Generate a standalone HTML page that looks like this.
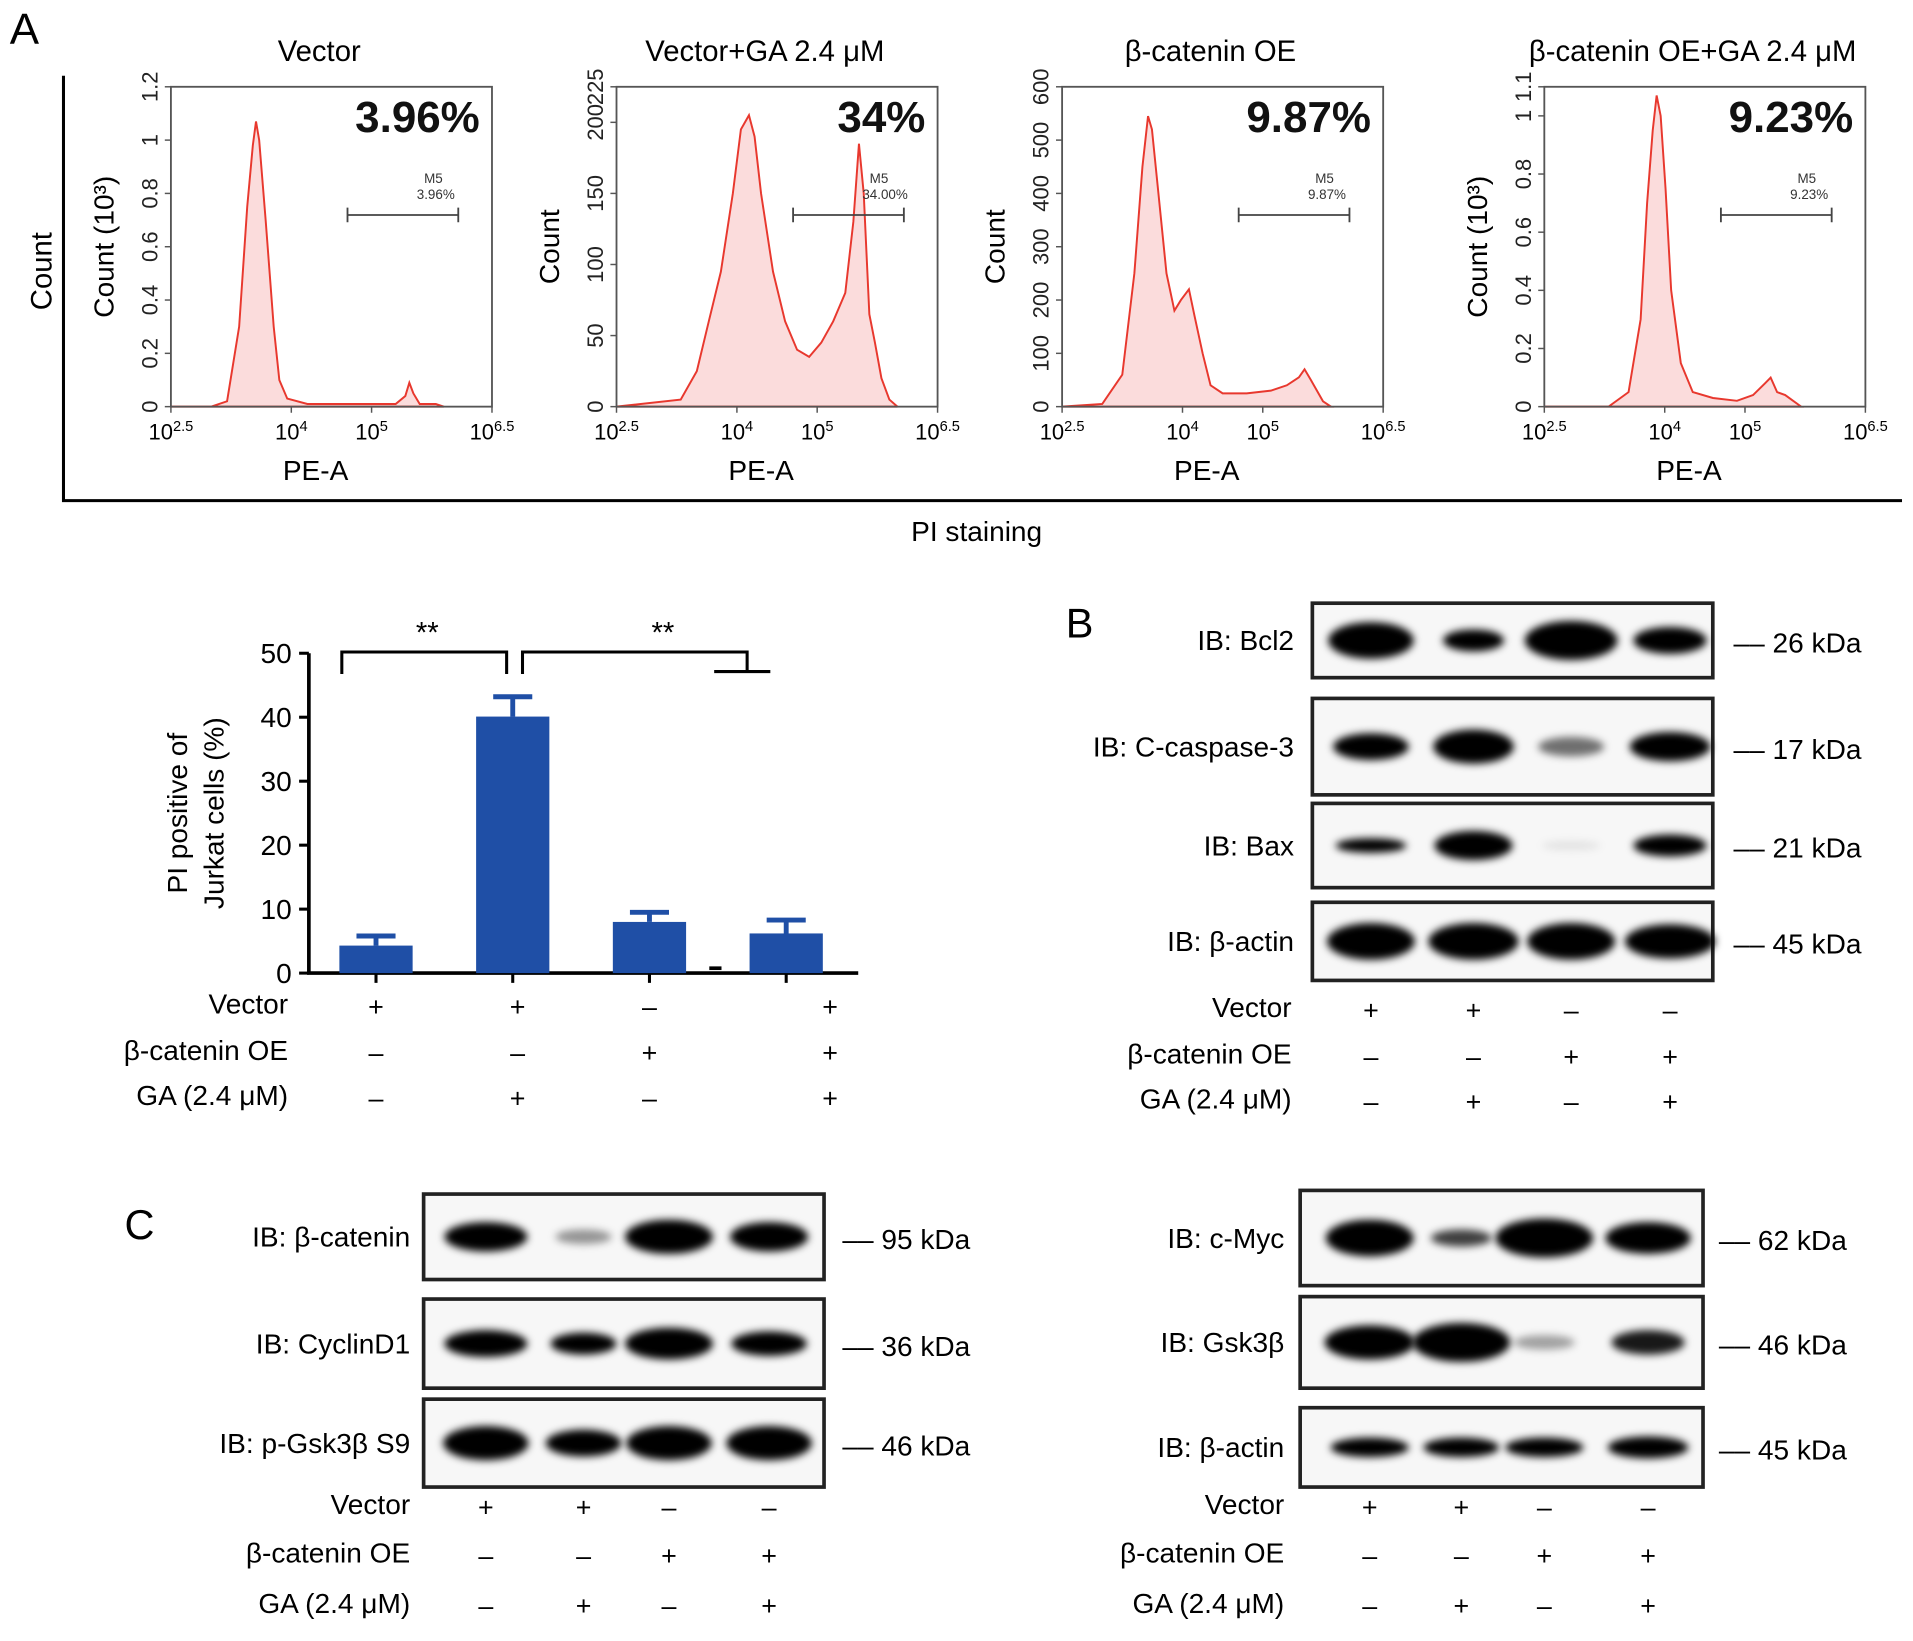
<!DOCTYPE html>
<html><head><meta charset="utf-8"><style>
html,body{margin:0;padding:0;background:#fff;}
svg{display:block;font-family:"Liberation Sans",Arial,sans-serif;}
</style></head><body>
<svg id="fig" width="1913" height="1641" viewBox="0 0 1567 1344" xmlns="http://www.w3.org/2000/svg">
<defs>
<filter id="blur" x="-30%" y="-80%" width="160%" height="260%"><feGaussianBlur stdDeviation="3.2"/></filter>
</defs>
<text x="8" y="36" font-size="36">A</text>
<text x="800" y="443" font-size="23" text-anchor="middle">PI staining</text>
<path d="M52 62 V410 H1558" stroke="#000" stroke-width="2.5" fill="none"/>
<text x="873" y="522" font-size="34">B</text>
<text x="102" y="1015" font-size="34">C</text>
<g id="hists"></g><g id="bar"></g><g id="blots"></g>
</svg>
<script>
const NS="http://www.w3.org/2000/svg";
const svg=document.getElementById('fig');
function el(tag,attrs,parent,text){const e=document.createElementNS(NS,tag);for(const k in attrs)e.setAttribute(k,attrs[k]);if(text!==undefined)e.textContent=text;(parent||svg).appendChild(e);return e;}

/* ---------- Histogram data ---------- */
const histTitles=["Vector","Vector+GA 2.4 \u03bcM","\u03b2-catenin OE","\u03b2-catenin OE+GA 2.4 \u03bcM"];
const histPercent=["3.96%","34%","9.87%","9.23%"];
const histGate=["3.96%","34.00%","9.87%","9.23%"];
const histYMax=[1.2,225,600,1.1];
const histYTicks=[[0,0.2,0.4,0.6,0.8,1,1.2],[0,50,100,150,200,225],[0,100,200,300,400,500,600],[0,0.2,0.4,0.6,0.8,1,1.1]];
const histYLabel=["Count (10\u00b3)","Count","Count","Count (10\u00b3)"];
const histLogX=[
 [2.5,3.0,3.2,3.35,3.45,3.52,3.56,3.6,3.68,3.78,3.85,3.95,4.2,4.6,5.0,5.3,5.42,5.47,5.52,5.6,5.8,5.9],
 [2.5,3.3,3.5,3.65,3.8,3.95,4.05,4.15,4.22,4.3,4.45,4.6,4.75,4.9,5.05,5.2,5.35,5.45,5.52,5.58,5.65,5.72,5.8,5.9,6.0],
 [2.5,3.0,3.25,3.4,3.5,3.57,3.62,3.7,3.8,3.9,3.98,4.08,4.15,4.25,4.35,4.5,4.8,5.1,5.3,5.45,5.52,5.6,5.75,5.85],
 [2.5,3.3,3.55,3.7,3.78,3.85,3.9,3.95,4.01,4.08,4.2,4.35,4.6,4.9,5.1,5.25,5.32,5.4,5.5,5.6,5.7]
];
const histCounts=[
 [0,0,0.02,0.3,0.75,0.98,1.07,1.0,0.7,0.3,0.1,0.03,0.01,0.01,0.01,0.01,0.04,0.09,0.05,0.01,0.01,0],
 [0,5,25,60,95,150,195,205,190,150,95,60,40,35,45,60,80,130,185,150,65,45,20,5,0],
 [0,5,60,250,450,545,520,400,250,180,200,220,170,100,40,25,25,30,40,55,70,50,10,0],
 [0,0,0.05,0.3,0.7,0.95,1.07,1.0,0.75,0.4,0.15,0.05,0.03,0.02,0.04,0.08,0.1,0.05,0.04,0.02,0]
];
const histBoxX=[140,505,870,1265];

/* ---------- Bar chart data ---------- */
const barCats=["Vector","\u03b2-catenin OE+GA"];
const barValues=[4.3,40.1,8.0,6.2];
const barErrors=[1.5,3.1,1.5,2.1];
const barYTicks=[0,10,20,30,40,50];
const rowLabels=["Vector","\u03b2-catenin OE","GA (2.4 \u03bcM)"];
const signsA=[["+","+","\u2013","+"],["\u2013","\u2013","+","+"],["\u2013","+","\u2013","+"]];
const signsB=[["+","+","\u2013","\u2013"],["\u2013","\u2013","+","+"],["\u2013","+","\u2013","+"]];

/* ---------- Histograms ---------- */
const hg=document.getElementById('hists');
histTitles.forEach((t,i)=>{
 const x0=histBoxX[i],x1=x0+263,y0=71,y1=333;
 const g=el('g',{},hg);
 
 
 const sx=v=>x0+(v-2.5)/4*(x1-x0);
 const sy=v=>y1-v/histYMax[i]*(y1-y0);
 const tt=el('text',{x:(x0+x1)/2-10,y:50,'font-size':24,'text-anchor':'middle'},g,t);
 
 let d='M'+sx(histLogX[i][0])+' '+sy(0);
 histLogX[i].forEach((lx,j)=>{d+=' L'+sx(lx).toFixed(1)+' '+sy(histCounts[i][j]).toFixed(1);});
 d+=' L'+sx(histLogX[i][histLogX[i].length-1])+' '+sy(0)+' Z';
 const p=el('path',{d:d,fill:'#fbdcdc',stroke:'#e8382e','stroke-width':1.6},g);
 
 el('rect',{x:x0,y:y0,width:x1-x0,height:y1-y0,fill:'none',stroke:'#555','stroke-width':1.5},g);
 histYTicks[i].forEach(v=>{
  const y=sy(v);
  el('line',{x1:x0-5,x2:x0,y1:y,y2:y,stroke:'#555','stroke-width':1.2},g);
  el('text',{x:0,y:0,transform:`translate(${x0-11},${y}) rotate(-90)`,'font-size':18,'text-anchor':'middle',fill:'#222'},g,String(v));
 });
 [[2.5,'2.5'],[4,'4'],[5,'5'],[6.5,'6.5']].forEach(([v,s])=>{
  const x=sx(v);
  el('line',{x1:x,x2:x,y1:y1,y2:y1+5,stroke:'#555','stroke-width':1.2},g);
  const tx=el('text',{x:x,y:y1+27,'font-size':18,'text-anchor':'middle'},g);
  el('tspan',{},tx,'10');el('tspan',{dy:-7,'font-size':12},tx,s);
 });
 el('text',{x:(x0+x1)/2-13,y:393,'font-size':23,'text-anchor':'middle'},g,'PE-A');
 const yl=el('text',{x:0,y:0,transform:`translate(${x0-47},${(y0+y1)/2}) rotate(-90)`,'font-size':23,'text-anchor':'middle'},g,histYLabel[i]);
 
 const pt=el('text',{x:x1-10,y:108,'font-size':36,'font-weight':'bold','text-anchor':'end',fill:'#111'},g,histPercent[i]);
 
 const ga=sx(4.7),gb=sx(6.08);
 el('path',{d:`M${ga} 170 V182 M${ga} 176 H${gb} M${gb} 170 V182`,stroke:'#444','stroke-width':1.5,fill:'none'},g);
 el('text',{x:gb-28,y:150,'font-size':11,fill:'#333'},g,'M5');
 el('text',{x:gb-34,y:163,'font-size':11,fill:'#333'},g,histGate[i]);
});
el('text',{x:0,y:0,transform:'translate(42,222) rotate(-90)','font-size':24,'text-anchor':'middle'},hg,'Count');

/* ---------- Bar chart ---------- */
const bg=document.getElementById('bar');
const bx0=253,by0=797,byTop=535,barCenters=[308,420,532,644];
const yS=v=>by0-v/50*(by0-byTop);
el('path',{d:`M${bx0} ${byTop} V${by0} H703`,stroke:'#000','stroke-width':3,fill:'none'},bg);
barYTicks.forEach(v=>{
 el('line',{x1:bx0-8,x2:bx0,y1:yS(v),y2:yS(v),stroke:'#000','stroke-width':2.5},bg);
 el('text',{x:bx0-14,y:yS(v)+8,'font-size':23,'text-anchor':'end'},bg,String(v));
});
barCenters.forEach(x=>el('line',{x1:x,x2:x,y1:by0,y2:by0+8,stroke:'#000','stroke-width':2.5},bg));
barValues.forEach((v,i)=>{
 const x=barCenters[i];
 const r=el('rect',{x:x-30,y:yS(v),width:60,height:by0-yS(v),fill:'#1f4fa6'},bg);
 
 const top=yS(v+barErrors[i]);
 el('path',{d:`M${x} ${yS(v)} V${top} M${x-16} ${top} H${x+16}`,stroke:'#1f4fa6','stroke-width':4,fill:'none'},bg);
});
el('line',{x1:581,x2:591,y1:793,y2:793,stroke:'#000','stroke-width':3},bg);
el('text',{x:0,y:0,transform:'translate(153,666) rotate(-90)','font-size':23,'text-anchor':'middle'},bg,'PI positive of');
el('text',{x:0,y:0,transform:'translate(183,666) rotate(-90)','font-size':23,'text-anchor':'middle'},bg,'Jurkat cells (%)');
el('path',{d:'M280 552 V534 H415 V552 M428 552 V534 H612 V550 M585 550 H631',stroke:'#000','stroke-width':2.5,fill:'none'},bg);
el('text',{x:350,y:526,'font-size':24,'text-anchor':'middle'},bg,'**');
el('text',{x:543,y:526,'font-size':24,'text-anchor':'middle'},bg,'**');
rowLabels.forEach((l,r)=>{
 const y=[830,868,905][r];
 el('text',{x:236,y:y,'font-size':23,'text-anchor':'end'},bg,l);
 signsA[r].forEach((s,i)=>el('text',{x:[308,424,532,680][i],y:y+2,'font-size':22,'text-anchor':'middle'},bg,s));
});

/* ---------- Western blots ---------- */
const blg=document.getElementById('blots');
const blotPanels=[
 {x0:1075,x1:1403,lanes:[1123,1207,1287,1368],labelX:1060,kdaX:1420,
  rows:[["IB: Bcl2","26 kDa",494,555,[[70,30,1],[50,18,1],[76,32,1],[60,22,1]]],
        ["IB: C-caspase-3","17 kDa",572,651,[[62,22,1],[66,28,1],[54,16,0.55],[66,24,1]]],
        ["IB: Bax","21 kDa",658,727,[[58,12,1],[64,24,1],[48,8,0.08],[60,18,1]]],
        ["IB: \u03b2-actin","45 kDa",739,803,[[72,30,1],[74,30,1],[72,30,1],[74,28,1]]]],
  tableY:[833,871,908],signs:signsB,tabLabelX:1058},
 {x0:347,x1:675,lanes:[398,478,548,630],labelX:336,kdaX:690,
  rows:[["IB: \u03b2-catenin","95 kDa",978,1048,[[68,24,1],[46,12,0.4],[72,28,1],[64,24,1]]],
        ["IB: CyclinD1","36 kDa",1064,1137,[[68,22,1],[54,18,1],[72,26,1],[62,20,1]]],
        ["IB: p-Gsk3\u03b2 S9","46 kDa",1146,1218,[[70,28,1],[62,22,1],[70,28,1],[70,28,1]]]],
  tableY:[1240,1280,1321],signs:signsB,tabLabelX:336},
 {x0:1065,x1:1395,lanes:[1122,1197,1265,1350],labelX:1052,kdaX:1408,
  rows:[["IB: c-Myc","62 kDa",975,1053,[[72,30,1],[50,14,0.75],[80,32,1],[70,26,1]]],
        ["IB: Gsk3\u03b2","46 kDa",1062,1137,[[74,28,1],[80,32,1],[50,12,0.35],[60,20,0.9]]],
        ["IB: \u03b2-actin","45 kDa",1153,1218,[[64,16,1],[62,16,1],[64,16,1],[66,18,1]]]],
  tableY:[1240,1280,1321],signs:signsB,tabLabelX:1052}
];
blotPanels.forEach((P,pi)=>{
 P.rows.forEach(([lab,kda,yt,yb,bands])=>{
  const g=el('g',{},blg);
  
  
  el('rect',{x:P.x0,y:yt,width:P.x1-P.x0,height:yb-yt,fill:'#f7f7f7',stroke:'#222','stroke-width':3},g);
  const cy=(yt+yb)/2;
  bands.forEach(([w,h,o],i)=>{
   el('ellipse',{cx:P.lanes[i],cy:cy,rx:w/2,ry:h/2,fill:'#000','fill-opacity':o,filter:'url(#blur)'},g);
  });
  el('text',{x:P.labelX,y:cy+8,'font-size':23,'text-anchor':'end'},g,lab);
  el('text',{x:P.kdaX,y:cy+10,'font-size':23},g,'\u2013\u2013 '+kda);
 });
 rowLabels.forEach((l,r)=>{
  const y=P.tableY[r];
  el('text',{x:P.tabLabelX,y:y,'font-size':23,'text-anchor':'end'},blg,l);
  P.signs[r].forEach((s,i)=>el('text',{x:P.lanes[i],y:y+2,'font-size':22,'text-anchor':'middle'},blg,s));
 });
});
</script>
</body></html>
